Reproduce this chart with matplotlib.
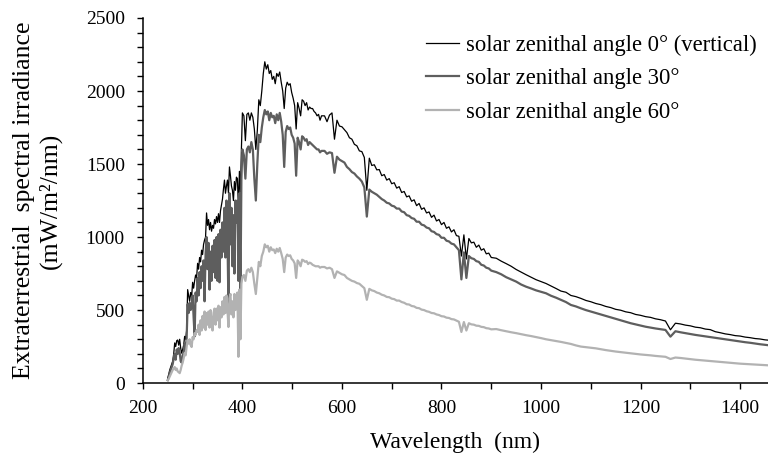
import numpy as np
import matplotlib
matplotlib.use("Agg")
import matplotlib.pyplot as plt

plt.rcParams['font.family'] = ['Liberation Serif', 'DejaVu Serif']

# wavelength sampling (nm), four segments
wl_a = np.arange(250, 401, 2)     # 76 points
wl_b = np.arange(403, 560, 3)     # 53 points
wl_c = np.arange(565, 901, 5)     # 68 points
wl_d = np.arange(910, 1461, 10)   # 56 points

# solar zenithal angle 0 deg (vertical)
sza0_a = [35, 60, 90, 110, 130, 150, 200, 275, 250, 290,
          295, 260, 300, 240, 205, 230, 260, 320, 300, 360,
          640, 600, 560, 620, 590, 690, 650, 700, 740, 720,
          820, 780, 860, 830, 910, 880, 950, 980, 1000, 1165,
          1080, 1120, 1050, 1100, 1040, 1080, 1060, 1120, 1090, 1140,
          1100, 1160, 1100, 1180, 1220, 1260, 1330, 1390, 1300, 1350,
          1390, 1300, 1480, 1420, 1350, 1320, 1250, 1380, 1320, 1410,
          1400, 1200, 1450, 1300, 1600, 1850]
sza0_b = [1830, 1660, 1840, 1850, 1800, 1850, 1820, 1740, 1600, 1730,
          1940, 1900, 2000, 2120, 2200, 2150, 2180, 2120, 2140, 2080,
          2100, 2050, 2120, 2100, 2130, 2060, 2000, 1880, 2020, 2060,
          2040, 2050, 1990, 1950, 1900, 1740, 1920, 1880, 1830, 1940,
          1930, 1900, 1920, 1870, 1890, 1880, 1880, 1860, 1850, 1830,
          1840, 1800, 1830]
sza0_c = [1830, 1790, 1835, 1850, 1670, 1800, 1760, 1755, 1735, 1715,
          1680, 1670, 1635, 1625, 1590, 1585, 1545, 1320, 1540, 1490,
          1495, 1460, 1462, 1420, 1428, 1390, 1400, 1365, 1372, 1335,
          1345, 1305, 1312, 1275, 1282, 1245, 1255, 1215, 1230, 1190,
          1200, 1165, 1172, 1135, 1150, 1110, 1120, 1085, 1100, 1060,
          1070, 1035, 1050, 1010, 1005, 870, 1015, 850, 990, 960,
          965, 930, 945, 910, 920, 885, 890, 860]
sza0_d = [855, 835, 818, 800, 778, 760, 742, 725, 708, 695,
          682, 665, 648, 630, 622, 600, 592, 580, 566, 557,
          545, 537, 525, 517, 505, 499, 488, 482, 470, 464,
          455, 450, 440, 434, 425, 365, 410, 405, 397, 392,
          383, 379, 370, 366, 352, 345, 337, 332, 325, 322,
          315, 311, 305, 302, 296, 293]

# solar zenithal angle 30 deg
sza30_a = [20, 40, 70, 90, 110, 130, 170, 200, 160, 230,
           200, 240, 210, 150, 140, 190, 210, 270, 230, 310,
           540, 480, 550, 500, 520, 600, 450, 320, 620, 560,
           720, 600, 760, 650, 800, 700, 840, 560, 880, 1000,
           780, 960, 640, 900, 700, 940, 760, 980, 720, 1000,
           700, 1020, 690, 1050, 860, 1100, 900, 1200, 860, 1250,
           1000, 520, 1300, 950, 1200, 800, 1150, 750, 1250, 1100,
           1250, 700, 1300, 550, 1400, 1600]
sza30_b = [1560, 1400, 1600, 1620, 1580, 1650, 1600, 1400, 1250, 1500,
           1700, 1650, 1750, 1820, 1870, 1840, 1860, 1800, 1850, 1820,
           1830, 1780, 1840, 1800, 1850, 1790, 1700, 1480, 1720, 1760,
           1740, 1750, 1700, 1680, 1640, 1420, 1680, 1650, 1600, 1690,
           1680, 1660, 1670, 1630, 1650, 1640, 1630, 1620, 1610, 1600,
           1600, 1580, 1590]
sza30_c = [1590, 1570, 1580, 1575, 1440, 1550, 1530, 1520, 1510, 1480,
           1465, 1445, 1435, 1415, 1400, 1380, 1340, 1140, 1325, 1310,
           1300, 1290, 1275, 1260, 1250, 1235, 1230, 1215, 1210, 1195,
           1195, 1175, 1170, 1150, 1145, 1130, 1125, 1105, 1105, 1085,
           1080, 1065, 1060, 1040, 1035, 1020, 1015, 995, 995, 975,
           970, 955, 950, 930, 910, 710, 895, 720, 870, 855,
           850, 835, 830, 810, 805, 790, 785, 770]
sza30_d = [760, 745, 725, 710, 695, 675, 660, 648, 635, 625,
           615, 598, 585, 570, 555, 535, 525, 512, 500, 490,
           480, 470, 460, 450, 440, 430, 420, 410, 402, 394,
           386, 380, 374, 369, 364, 318, 355, 348, 342, 336,
           330, 325, 320, 315, 310, 305, 300, 295, 290, 285,
           280, 276, 271, 266, 262, 258]

# solar zenithal angle 60 deg
sza60_a = [20, 30, 45, 60, 75, 90, 100, 110, 90, 100,
           80, 75, 68, 90, 120, 140, 170, 205, 190, 250,
           295, 270, 300, 260, 247, 315, 300, 342, 330, 363,
           350, 400, 330, 430, 360, 460, 380, 490, 363, 480,
           400, 490, 380, 500, 420, 360, 480, 510, 400, 510,
           430, 530, 380, 520, 450, 560, 470, 590, 480, 600,
           500, 384, 580, 610, 470, 560, 450, 610, 500, 600,
           620, 180, 640, 300, 680, 726]
sza60_b = [740, 700, 770, 780, 760, 790, 760, 680, 610, 720,
           830, 800, 870, 900, 950, 930, 940, 900, 930, 910,
           915, 890, 920, 900, 925, 890, 850, 760, 860, 880,
           870, 875, 850, 840, 820, 720, 840, 825, 800, 845,
           840, 830, 835, 815, 825, 820, 810, 805, 800, 800,
           800, 790, 795]
sza60_c = [795, 785, 790, 780, 720, 765, 755, 745, 740, 720,
           710, 700, 695, 685, 680, 665, 650, 570, 645, 635,
           630, 620, 615, 605, 600, 590, 588, 578, 575, 565,
           565, 555, 550, 540, 538, 528, 525, 515, 513, 503,
           500, 492, 488, 480, 478, 470, 466, 458, 456, 448,
           446, 438, 436, 428, 420, 350, 418, 360, 410, 402,
           400, 393, 392, 385, 383, 376, 374, 368]
sza60_d = [370, 362, 355, 348, 342, 335, 328, 322, 315, 308,
           300, 294, 288, 282, 275, 268, 258, 250, 246, 242,
           238, 232, 226, 221, 216, 212, 208, 204, 200, 196,
           193, 190, 186, 183, 180, 165, 175, 172, 168, 164,
           160, 157, 154, 151, 148, 145, 142, 139, 136, 133,
           131, 129, 127, 125, 123, 121]

wl = np.concatenate([wl_a, wl_b, wl_c, wl_d])
sza0 = np.concatenate([sza0_a, sza0_b, sza0_c, sza0_d])
sza30 = np.concatenate([sza30_a, sza30_b, sza30_c, sza30_d])
sza60 = np.concatenate([sza60_a, sza60_b, sza60_c, sza60_d])

labels = ["solar zenithal angle 0\u00b0 (vertical)",
          "solar zenithal angle 30\u00b0",
          "solar zenithal angle 60\u00b0"]

fig = plt.figure(figsize=(7.68, 4.61), dpi=100)
ax = fig.add_axes([0.186, 0.169, 0.814, 0.792])

ax.plot(wl, sza0, color='#000000', lw=0.9, label=labels[0])
ax.plot(wl, sza30, color='#5e5e5e', lw=1.6, label=labels[1])
ax.plot(wl, sza60, color='#b2b2b2', lw=1.6, label=labels[2])

ax.set_xlim(200, 1456)
ax.set_ylim(0, 2500)
ax.set_xticks(range(200, 1401, 200))
ax.set_xticks(range(200, 1456, 100), minor=True)
ax.set_yticks(range(0, 2501, 500))
ax.set_yticks(range(0, 2501, 100), minor=True)

for s in ['top', 'right']:
    ax.spines[s].set_visible(False)
for s in ['left', 'bottom']:
    ax.spines[s].set_linewidth(1.1)

ax.tick_params(which='both', direction='out', length=4, width=1.0)
ax.tick_params(axis='y', which='major', labelsize=14, pad=9)
ax.tick_params(axis='x', which='major', labelsize=14, pad=8)

ax.set_xlabel("Wavelength  (nm)", fontsize=17, labelpad=11)
ax.set_ylabel("Extraterrestrial  spectral irradiance\n(mW/m\u00b2/nm)",
              fontsize=18.5, linespacing=1.2)
ax.yaxis.set_label_coords(-0.13, 0.5)

ax.legend(loc='upper right', bbox_to_anchor=(1.0, 0.985), frameon=False,
          fontsize=16.3, handlelength=1.45, handletextpad=0.3,
          labelspacing=0.55, borderaxespad=0.1)

fig.savefig("out.png", dpi=100)
